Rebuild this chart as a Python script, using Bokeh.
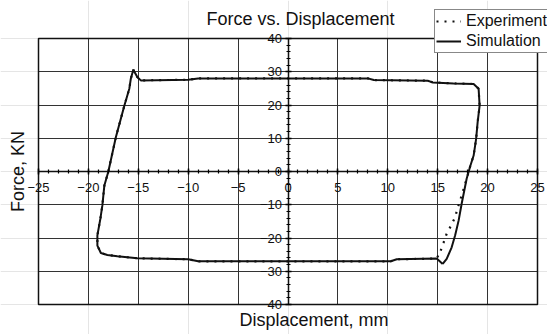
from bokeh.plotting import figure
from bokeh.models import Range1d, LinearAxis, FixedTicker, Grid, Label, Legend, LegendItem
from bokeh.embed import file_html
from bokeh.resources import INLINE
import math

# Simulation loop (displacement mm, force KN)
sim_x = [15.5, 15.9, 16.4, 16.75, 17.1, 17.4, 17.9, 18.25, 18.6, 18.85, 19.0, 19.2, 19.1, 18.6,
         16.6, 14.5, 14.0, 8.6, 8.0, -9.0, -10.0, -14.75, -15.1, -15.5, -15.75, -15.9, -16.4,
         -17.25, -18.0, -18.4, -18.6, -18.8, -19.1, -19.1, -18.75, -18.1, -17.1, -15.1, -10.0,
         -9.0, 10.3, 10.9, 14.9, 15.5]
sim_y = [-27.8, -26.3, -22.8, -19.2, -14.7, -9.7, -2.2, 1.5, 4.8, 9.8, 14.8, 19.8, 24.9, 26.3,
         26.5, 26.8, 27.3, 27.5, 28.0, 28.0, 27.6, 27.4, 28.4, 30.6, 27.9, 24.9, 19.8,
         10.3, 0.0, -4.2, -10.2, -14.2, -19.2, -22.3, -24.5, -25.1, -25.5, -26.1, -26.4,
         -27.0, -27.0, -26.4, -26.2, -27.8]

# Experiment loop
exp_x = [15.3, 15.6, 15.9, 16.35, 16.75, 17.0, 17.3, 17.9, 18.25, 18.6, 18.85, 19.0, 19.2, 19.1, 18.6,
         16.6, 14.5, 14.0, 8.6, 8.0, -9.0, -10.0, -14.75, -15.1, -15.5, -15.75, -15.9, -16.4,
         -17.25, -18.0, -18.4, -18.6, -18.8, -19.1, -19.1, -18.75, -18.1, -17.1, -15.1, -10.0,
         -9.0, 10.3, 10.9, 14.9, 15.3]
exp_y = [-23.8, -21.3, -18.7, -16.2, -13.7, -11.0, -8.2, -2.2, 1.5, 4.8, 9.8, 14.8, 19.8, 24.9, 26.3,
         26.5, 26.8, 27.3, 27.5, 28.0, 28.0, 27.6, 27.4, 28.4, 30.6, 27.9, 24.9, 19.8,
         10.3, 0.0, -4.2, -10.2, -14.2, -19.2, -22.3, -24.5, -25.1, -25.5, -26.1, -26.4,
         -27.0, -27.0, -26.4, -26.2, -23.8]

x_ticks = [-25, -20, -15, -10, -5, 0, 5, 10, 15, 20, 25]
y_ticks = [-40, -30, -20, -10, 0, 10, 20, 30, 40]
x_minor = list(range(-25, 26, 1))
y_minor = list(range(-40, 41, 2))

FONT = "Liberation Sans"
INK = "#111111"

W, H = 547, 334
# plot box in canvas pixels: left 38, right 537, top 38, bottom 304
sx = (537 - 38) / (x_ticks[-1] - x_ticks[0])
sy = (304 - 38) / (y_ticks[-1] - y_ticks[0])
x0 = x_ticks[0] - 38 / sx
x1 = x_ticks[-1] + (W - 537) / sx
y0 = y_ticks[0] - (H - 304) / sy
y1 = y_ticks[-1] + 38 / sy

p = figure(width=W, height=H, output_backend="svg", toolbar_location=None,
           x_range=Range1d(x0, x1), y_range=Range1d(y0, y1),
           x_axis_location=None, y_axis_location=None,
           min_border_left=0, min_border_right=0, min_border_top=0, min_border_bottom=0)
p.background_fill_color = "white"
p.border_fill_color = "white"
p.outline_line_color = None

xb = (x_ticks[0], x_ticks[-1])
yb = (y_ticks[0], y_ticks[-1])
xg = Grid(dimension=0, ticker=FixedTicker(ticks=x_ticks), bounds=xb, cross_bounds=yb,
          grid_line_color="#333333", grid_line_width=1)
yg = Grid(dimension=1, ticker=FixedTicker(ticks=y_ticks), bounds=yb, cross_bounds=xb,
          grid_line_color="#333333", grid_line_width=1)
p.add_layout(xg, "center")
p.add_layout(yg, "center")

# plot-area box
p.quad(left=[xb[0]], right=[xb[1]], bottom=[yb[0]], top=[yb[1]],
       fill_color=None, line_color=INK, line_width=1.5)

xa = LinearAxis(fixed_location=0, bounds=xb, ticker=FixedTicker(ticks=x_ticks, minor_ticks=x_minor))
ya = LinearAxis(fixed_location=0, bounds=yb, ticker=FixedTicker(ticks=y_ticks, minor_ticks=y_minor))
for ax in (xa, ya):
    ax.axis_line_width = 1.5
    ax.axis_line_color = INK
    ax.major_tick_in = 3
    ax.major_tick_out = 3
    ax.minor_tick_in = 2
    ax.minor_tick_out = 2
    ax.major_tick_line_width = 1.5
    ax.minor_tick_line_width = 1.2
    ax.major_label_text_font = FONT
    ax.major_label_text_font_size = "13px"
    ax.major_label_text_color = INK
xa.major_label_standoff = 8
ya.major_label_standoff = 3
p.add_layout(xa, "below")
p.add_layout(ya, "left")

r_exp = p.line(exp_x, exp_y, line_color=INK, line_width=2.2, line_dash="2 6")
r_sim = p.line(sim_x, sim_y, line_color=INK, line_width=2)

p.add_layout(Label(x=1.25, y=45.86, text="Force vs. Displacement",
                   text_align="center", text_baseline="middle",
                   text_font=FONT, text_font_size="18px", text_color=INK))
p.add_layout(Label(x=-27.05, y=0, text="Force, KN", angle=math.pi / 2,
                   text_align="center", text_baseline="middle",
                   text_font=FONT, text_font_size="18px", text_color=INK))
p.add_layout(Label(x=2.6, y=-44.8, text="Displacement, mm",
                   text_align="center", text_baseline="middle",
                   text_font=FONT, text_font_size="18px", text_color=INK))

legend = Legend(items=[LegendItem(label="Experiment", renderers=[r_exp]),
                       LegendItem(label="Simulation", renderers=[r_sim])],
                location=(434, H - 53))
legend.label_text_font = FONT
legend.label_text_font_size = "16px"
legend.label_text_color = INK
legend.border_line_color = INK
legend.border_line_width = 1.5
legend.padding = 1
legend.spacing = 0
legend.margin = 0
legend.glyph_width = 25
legend.glyph_height = 20
legend.label_height = 20
legend.label_standoff = 5
legend.background_fill_alpha = 1
p.add_layout(legend, "center")

open("out.html", "w").write(file_html(p, INLINE))
